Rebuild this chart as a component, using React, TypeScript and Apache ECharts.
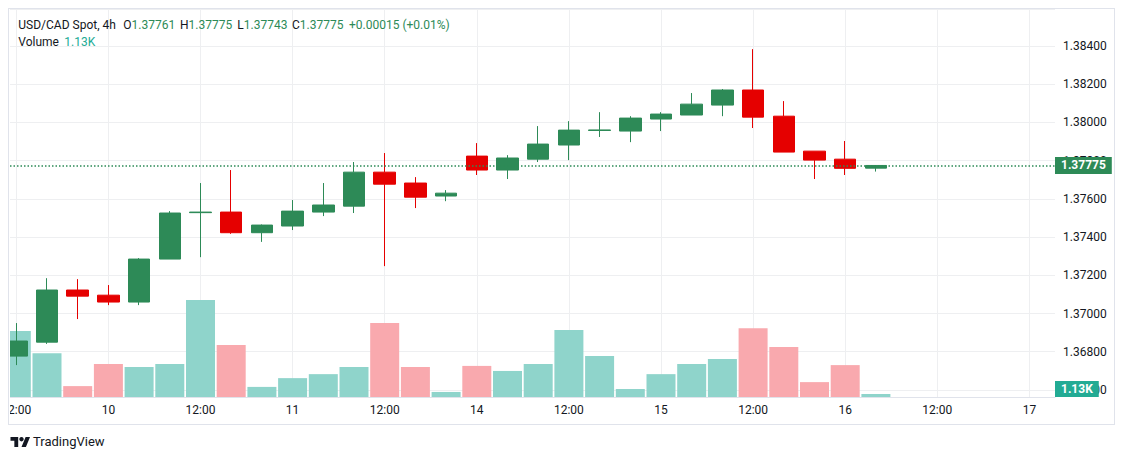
import React, { useEffect, useRef } from "react";
import * as echarts from "echarts";

// ---------- data ----------
const SYMBOL_TITLE = "USD/CAD Spot, 4h";
const VOLUME_TITLE = "Volume";
const BRAND = "TradingView";

// 4h candles, slot 0 = 9th 12:00 ... slot 28 = 16th 04:00
const opens = [1.36777, 1.3685, 1.37123, 1.37096, 1.3706, 1.37285, 1.37528, 1.37531, 1.37423, 1.37458, 1.37531, 1.37562, 1.3774, 1.37683, 1.37615, 1.37824, 1.37751, 1.37808, 1.37882, 1.37958, 1.37955, 1.38018, 1.38039, 1.38091, 1.3817, 1.38033, 1.3785, 1.37808, 1.37761];
const highs = [1.3695, 1.37185, 1.3718, 1.37149, 1.3729, 1.37536, 1.37683, 1.37751, 1.37466, 1.37594, 1.37683, 1.37793, 1.3784, 1.37714, 1.37646, 1.37892, 1.37829, 1.37981, 1.38007, 1.38054, 1.38033, 1.38054, 1.38154, 1.38175, 1.38384, 1.38112, 1.3785, 1.37903, 1.37775];
const lows = [1.3673, 1.36841, 1.36971, 1.37044, 1.37044, 1.37285, 1.37295, 1.37417, 1.37375, 1.37437, 1.3751, 1.37526, 1.37248, 1.37552, 1.37588, 1.37725, 1.37704, 1.37793, 1.37803, 1.37924, 1.37897, 1.37955, 1.38039, 1.38033, 1.37971, 1.37845, 1.37704, 1.37725, 1.37743];
const closes = [1.36856, 1.37123, 1.37091, 1.3706, 1.37285, 1.37526, 1.37531, 1.37423, 1.37463, 1.37536, 1.37568, 1.3774, 1.37677, 1.37609, 1.3763, 1.37751, 1.37814, 1.37887, 1.3796, 1.37961, 1.38023, 1.38044, 1.38096, 1.3817, 1.38028, 1.37845, 1.37803, 1.3776, 1.37775];
const volumesK = [24.8, 16.5, 4.1, 12.4, 11.3, 12.4, 36.5, 19.6, 3.8, 7.1, 8.6, 11.3, 27.8, 11.3, 1.9, 11.7, 9.8, 12.4, 25.2, 15.4, 3.0, 8.6, 12.4, 14.3, 25.9, 18.8, 5.6, 12.0, 1.13];

const timeTickSlots = [0, 3, 6, 9, 12, 15, 18, 21, 24, 27, 30, 33];
const timeTickLabels = ["12:00", "10", "12:00", "11", "12:00", "14", "12:00", "15", "12:00", "16", "12:00", "17"];

const priceMin = 1.36563;
const priceMax = 1.38594;
const priceStep = 0.002;
const slotMin = -0.2052;
const slotMax = 33.834;
const volumeMax = 146;

// ---------- style ----------
const FONT = "Roboto, 'Noto Sans', sans-serif";
const TEXT = "#131722";
const UP = "#2d8a57";
const DOWN = "#e50000";
const VOL_UP = "#8fd4cb";
const VOL_DOWN = "#f9a9ae";
const VOL_LABEL = "#22ab94";
const GRID = "#eeeff1";

export default function App() {
  const ref = useRef<HTMLDivElement>(null);

  useEffect(() => {
    const el = ref.current;
    if (!el) return;
    const chart = echarts.init(el, null, { renderer: "svg" });

    const n = closes.length;
    const last = n - 1;
    const fmt = (v: number) => v.toFixed(5);
    const change = closes[last] - closes[last - 1];
    const changePct = (change / closes[last - 1]) * 100;
    const sign = change >= 0 ? "+" : "\u2212";
    const changeText = `${sign}${Math.abs(change).toFixed(5)} (${sign}${Math.abs(changePct).toFixed(2)}%)`;
    const lastUp = closes[last] >= opens[last];
    const valueColor = lastUp ? UP : DOWN;
    const lastVolText = `${volumesK[last].toFixed(2)}K`;

    const slots = closes.map((_, i) => i);
    const candleData = slots.map((i) => [i, opens[i], closes[i], lows[i], highs[i]]);
    const volumeData = slots.map((i) => ({
      value: [i, volumesK[i]],
      itemStyle: { color: closes[i] >= opens[i] ? VOL_UP : VOL_DOWN },
    }));
    const tickLabelMap: Record<number, string> = {};
    timeTickSlots.forEach((s, k) => (tickLabelMap[s] = timeTickLabels[k]));

    const richBase = { fontSize: 12, fontFamily: FONT };
    const ohlcItems: [string, number, number][] = [
      ["O", opens[last], 113.3],
      ["H", highs[last], 170],
      ["L", lows[last], 227.3],
      ["C", closes[last], 282],
    ];

    const logoTransform = { x: 0.5, y: 425.8, scaleX: 0.55, scaleY: 0.55 };

    const graphic: any[] = [
      {
        type: "text",
        x: 23,
        y: 432.5,
        z: 100,
        style: { text: BRAND, fill: TEXT, fontSize: 13, fontFamily: FONT, verticalAlign: "middle" },
      },
      {
        type: "text",
        x: 8.3,
        y: 16,
        z: 100,
        style: { text: SYMBOL_TITLE, fill: TEXT, fontSize: 12, fontFamily: FONT, verticalAlign: "middle" },
      },
      ...ohlcItems.map(([k, v, x]) => ({
        type: "text",
        x,
        y: 16,
        z: 100,
        style: {
          text: `{k|${k}}{v|${fmt(v)}}`,
          fontSize: 12,
          fontFamily: FONT,
          verticalAlign: "middle",
          rich: {
            k: { ...richBase, fill: TEXT },
            v: { ...richBase, fill: valueColor },
          },
        },
      })),
      {
        type: "text",
        x: 339,
        y: 16,
        z: 100,
        style: { text: changeText, fill: valueColor, fontSize: 12, fontFamily: FONT, verticalAlign: "middle" },
      },
      {
        type: "text",
        x: 8.3,
        y: 33.3,
        z: 100,
        style: { text: VOLUME_TITLE, fill: TEXT, fontSize: 12, fontFamily: FONT, verticalAlign: "middle" },
      },
      {
        type: "text",
        x: 54.3,
        y: 33.3,
        z: 100,
        style: { text: lastVolText, fill: VOL_LABEL, fontSize: 12, fontFamily: FONT, verticalAlign: "middle" },
      },
      {
        type: "polygon",
        z: 100,
        ...logoTransform,
        shape: { points: [[0, 4], [14, 4], [14, 22], [7, 22], [7, 11], [0, 11]] },
        style: { fill: TEXT },
      },
      {
        type: "polygon",
        z: 100,
        ...logoTransform,
        shape: { points: [[20, 22], [27.5, 4], [35.5, 4], [28, 22]] },
        style: { fill: TEXT },
      },
      {
        type: "circle",
        z: 100,
        ...logoTransform,
        shape: { cx: 20, cy: 8, r: 4 },
        style: { fill: TEXT },
      },
    ];

    const priceLineStyle = { color: valueColor, type: [1.5, 2], width: 1.5 };

    const option: any = {
      animation: false,
      backgroundColor: "transparent",
      textStyle: { fontFamily: FONT },
      grid: {
        left: 0,
        top: 0,
        width: 1045,
        height: 388,
        containLabel: false,
        outerBoundsMode: "none",
      },
      xAxis: {
        type: "value",
        min: slotMin,
        max: slotMax,
        axisLine: { show: true, lineStyle: { color: "#e0e3eb", width: 1 } },
        axisTick: { show: false, customValues: timeTickSlots },
        axisLabel: {
          customValues: timeTickSlots,
          formatter: (v: number) => tickLabelMap[Math.round(v)] ?? "",
          color: TEXT,
          fontSize: 12,
          fontFamily: FONT,
          margin: 7,
        },
        splitLine: { show: true, lineStyle: { color: GRID, width: 1 } },
      },
      yAxis: [
        {
          type: "value",
          position: "right",
          min: priceMin,
          max: priceMax,
          scale: true,
          splitNumber: 10,
          minInterval: priceStep,
          maxInterval: priceStep,
          axisLine: { show: false },
          axisTick: { show: false },
          axisLabel: {
            formatter: (v: number) => v.toFixed(5),
            color: TEXT,
            fontSize: 12,
            fontFamily: FONT,
            margin: 8,
            showMinLabel: false,
            showMaxLabel: false,
          },
          splitLine: { show: true, lineStyle: { color: GRID, width: 1 } },
        },
        {
          type: "value",
          min: 0,
          max: volumeMax,
          show: false,
          splitLine: { show: false },
        },
      ],
      graphic,
      series: [
        {
          type: "bar",
          name: "Volume",
          xAxisIndex: 0,
          yAxisIndex: 1,
          barWidth: 29,
          data: volumeData,
          silent: true,
          markLine: {
            silent: true,
            precision: 4,
            symbol: ["none", "none"],
            lineStyle: { color: "rgba(0,0,0,0)", width: 0 },
            data: [{ yAxis: volumesK[last] }],
            label: {
              show: true,
              position: "end",
              distance: 0,
              offset: [0, -5],
              formatter: () => lastVolText,
              color: "#fff",
              fontWeight: "bold",
              fontSize: 12,
              fontFamily: FONT,
              backgroundColor: VOL_LABEL,
              padding: [2, 6, 2, 6],
            },
          },
        },
        {
          type: "candlestick",
          name: "USD/CAD",
          xAxisIndex: 0,
          yAxisIndex: 0,
          barWidth: 22,
          encode: { x: 0, y: [1, 2, 3, 4] },
          data: candleData,
          silent: true,
          itemStyle: {
            color: UP,
            color0: DOWN,
            borderColor: UP,
            borderColor0: DOWN,
            borderWidth: 1,
          },
          markLine: {
            silent: true,
            precision: 5,
            symbol: ["none", "none"],
            lineStyle: priceLineStyle,
            data: [{ yAxis: closes[last], lineStyle: priceLineStyle }],
            label: {
              show: true,
              position: "end",
              distance: 0,
              formatter: () => fmt(closes[last]),
              color: "#fff",
              fontWeight: "bold",
              fontSize: 12,
              fontFamily: FONT,
              backgroundColor: valueColor,
              padding: [3, 6, 2, 6],
            },
          },
        },
      ],
    };

    chart.setOption(option);
    return () => chart.dispose();
  }, []);

  return (
    <div style={{ position: "relative", width: 1109, height: 452 }}>
      <div
        style={{
          position: "absolute",
          left: 0,
          top: 0,
          width: 1107,
          height: 417,
          border: "1px solid #e0e3eb",
          boxSizing: "border-box",
          background: "#fff",
        }}
      />
      <div ref={ref} style={{ position: "absolute", left: 2, top: 1, width: 1104, height: 450 }} />
    </div>
  );
}
